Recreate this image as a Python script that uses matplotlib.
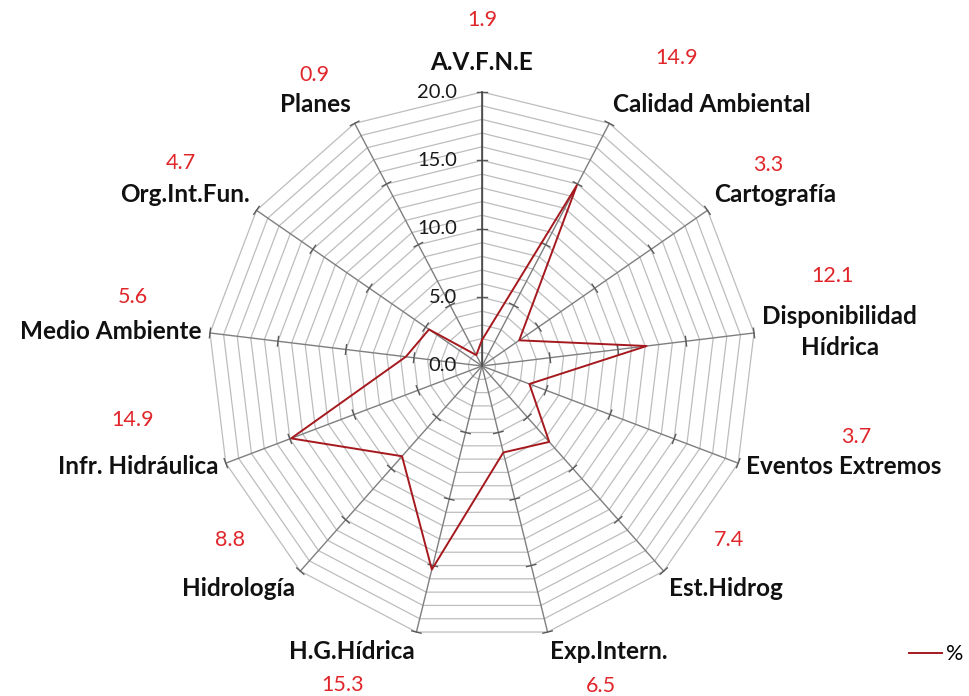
import numpy as np
import matplotlib
matplotlib.use("Agg")
import matplotlib.pyplot as plt

# ---------------- data ----------------
categories = ["A.V.F.N.E", "Calidad Ambiental", "Cartografía", "Disponibilidad\nHídrica",
              "Eventos Extremos", "Est.Hidrog", "Exp.Intern.", "H.G.Hídrica", "Hidrología",
              "Infr. Hidráulica", "Medio Ambiente", "Org.Int.Fun.", "Planes"]
values = [1.9, 14.9, 3.3, 12.1, 3.7, 7.4, 6.5, 15.3, 8.8, 14.9, 5.6, 4.7, 0.9]
value_labels = ["1.9", "14.9", "3.3", "12.1", "3.7", "7.4", "6.5", "15.3", "8.8",
                "14.9", "5.6", "4.7", "0.9"]
r_ticks = [0, 5, 10, 15, 20]
r_tick_labels = ["0.0", "5.0", "10.0", "15.0", "20.0"]
series_name = "%"

# ---------------- layout ----------------
W, H = 969, 696
DPI = 100
CX, CY = 482, 366          # centre in pixels (from top-left)
PX_PER_UNIT = 13.7
RMAX = 20

# pixel positions of red value labels (layout only)
val_pos_px = [(482, 20), (677, 58), (768, 165), (832, 276), (856, 437), (729, 540),
              (601, 686), (343, 685), (230, 540), (133, 420), (133, 297), (181, 163), (314, 75)]

FONT = ["Lato", "DejaVu Sans"]
plt.rcParams['font.family'] = FONT

fig = plt.figure(figsize=(W / DPI, H / DPI), dpi=DPI)
ax = fig.add_axes([0, 0, 1, 1])
ax.set_xlim(-CX / PX_PER_UNIT, (W - CX) / PX_PER_UNIT)
ax.set_ylim(-(H - CY) / PX_PER_UNIT, CY / PX_PER_UNIT)
ax.axis("off")

n = len(categories)
theta = np.arange(n) * 2 * np.pi / n
sx, sy = np.sin(theta), np.cos(theta)

# grid polygons
for r in range(1, RMAX + 1):
    xs = np.append(r * sx, r * sx[0])
    ys = np.append(r * sy, r * sy[0])
    ax.plot(xs, ys, color="#BDBDBD", lw=0.9, zorder=1)

# spokes
for i in range(n):
    ax.plot([0, RMAX * sx[i]], [0, RMAX * sy[i]], color="#7F7F7F", lw=1.0, zorder=2)

# tick marks on spokes
tick_half = 0.35
for i in range(n):
    px_, py_ = sy[i], -sx[i]   # perpendicular
    for r in r_ticks[1:]:
        x0, y0 = r * sx[i], r * sy[i]
        ax.plot([x0 - tick_half * px_, x0 + tick_half * px_],
                [y0 - tick_half * py_, y0 + tick_half * py_],
                color="#595959", lw=1.0, zorder=2)

# emphasise value axis
ax.plot([0, 0], [0, RMAX], color="#404040", lw=1.1, zorder=2)

# radial labels
for r, lab in zip(r_ticks, r_tick_labels):
    ax.annotate(lab, (0, r), xytext=(-18, 0), textcoords="offset points",
                ha="right", va="center", fontsize=14.5, color="#1A1A1A")

# data series
xs = np.append(np.array(values) * sx, values[0] * sx[0])
ys = np.append(np.array(values) * sy, values[0] * sy[0])
ax.plot(xs, ys, color="#A5191E", lw=1.4, zorder=4, label=series_name)

# category labels
for i, lab in enumerate(categories):
    s, c = sx[i], sy[i]
    if abs(s) < 0.05:
        ha = "center"
    elif s > 0:
        ha = "left"
    else:
        ha = "right"
    if c > 0.4:
        va = "bottom"
    elif c < -0.4:
        va = "top"
    else:
        va = "center"
    gap = 13 if i == 0 else 6
    ax.annotate(lab, (RMAX * s, RMAX * c), xytext=(gap * s, gap * c),
                textcoords="offset points", ha=ha, va=va, fontsize=17.5,
                fontweight="bold", color="#111111", multialignment="center",
                linespacing=1.4)

# value labels
for lab, (px, py) in zip(value_labels, val_pos_px):
    fig.text(px / W, 1 - py / H, lab, ha="center", va="center",
             fontsize=15.5, color="#E0262B")

# legend
fig.legend(loc="lower right", bbox_to_anchor=(1.014, 0.018), frameon=False,
           fontsize=15.5, handlelength=1.5, handletextpad=0.2)

fig.savefig("out.png", dpi=DPI)
